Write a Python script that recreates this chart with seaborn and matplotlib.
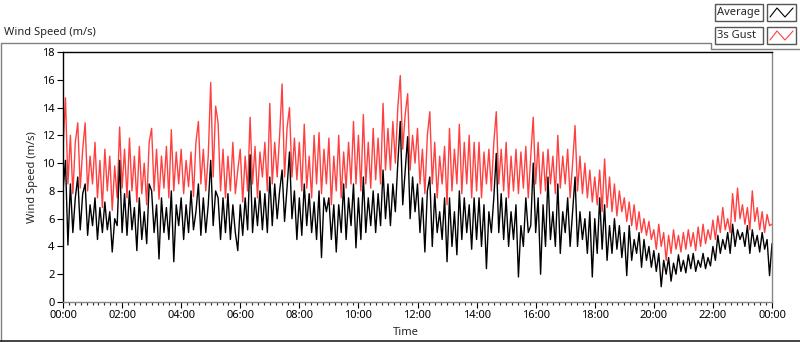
import numpy as np
import pandas as pd
import matplotlib
matplotlib.use('Agg')
import matplotlib.pyplot as plt
import matplotlib.dates as mdates
import matplotlib.patches as mpatches
from matplotlib.lines import Line2D
import seaborn as sns

# Values, one every 5 minutes from 00:00 to 24:00 (12 per row = 1 hour)
gust = [
    11.0, 14.7, 8.5, 12.0, 7.8, 11.5, 12.9, 8.2, 11.0, 12.9, 8.0, 10.5,
    8.5, 11.5, 7.5, 10.2, 6.8, 11.0, 8.0, 10.5, 6.6, 9.8, 7.5, 12.6,
    8.2, 11.0, 7.5, 11.8, 8.0, 10.5, 7.2, 11.2, 7.8, 10.0, 7.0, 11.5,
    12.5, 8.0, 11.0, 7.4, 10.5, 8.2, 11.2, 7.5, 12.4, 8.0, 10.8, 8.5,
    11.0, 7.8, 10.2, 8.3, 10.8, 7.6, 11.5, 13.0, 8.5, 11.0, 8.0, 10.5,
    15.8, 9.0, 14.1, 12.9, 8.0, 11.0, 7.5, 10.5, 8.0, 11.5, 7.8, 9.5,
    11.0, 7.2, 10.5, 8.0, 13.3, 8.5, 11.2, 7.5, 10.8, 9.0, 11.5, 8.0,
    14.3, 8.5, 11.5, 9.0, 12.0, 15.7, 9.0, 12.5, 14.0, 9.0, 11.8, 8.8,
    11.5, 8.0, 12.8, 8.2, 10.5, 7.5, 12.0, 8.5, 12.2, 7.8, 11.0, 8.5,
    11.8, 7.0, 10.5, 8.0, 12.0, 7.5, 10.8, 8.2, 11.5, 8.5, 13.0, 8.5,
    12.0, 8.0, 13.5, 8.5, 11.5, 8.2, 12.5, 8.8, 11.8, 8.5, 14.3, 9.5,
    12.5, 9.5, 13.0, 10.0, 14.0, 16.3, 11.0, 13.5, 15.0, 9.5, 12.0, 10.0,
    12.5, 8.5, 11.0, 7.8, 12.0, 13.7, 8.5, 11.5, 7.5, 10.5, 8.5, 11.2,
    7.0, 12.5, 8.0, 11.0, 8.5, 12.8, 7.8, 11.5, 8.5, 12.0, 7.5, 11.5,
    8.0, 11.5, 7.5, 10.8, 8.5, 11.0, 8.0, 11.5, 13.7, 8.5, 11.0, 8.0,
    11.5, 7.5, 10.5, 8.0, 11.0, 7.8, 10.8, 8.2, 11.2, 7.5, 10.5, 13.3,
    8.5, 11.5, 7.8, 10.8, 8.0, 11.0, 8.5, 10.5, 7.8, 12.0, 8.2, 10.5,
    8.5, 11.0, 7.5, 10.0, 12.7, 8.0, 10.5, 7.8, 10.0, 7.5, 9.5, 7.2,
    9.0, 7.0, 9.5, 6.5, 10.3, 6.8, 9.0, 6.5, 8.5, 6.2, 8.0, 6.5,
    7.5, 5.8, 7.2, 5.5, 7.0, 5.2, 6.5, 5.0, 6.0, 4.8, 5.8, 4.5,
    5.2, 3.8, 5.6, 4.0, 5.0, 3.0, 4.8, 3.5, 5.2, 3.8, 4.8, 3.6,
    5.0, 3.8, 5.2, 4.0, 5.0, 3.7, 5.4, 4.0, 5.6, 4.2, 5.2, 4.5,
    5.9, 4.5, 6.2, 5.0, 6.8, 5.2, 6.0, 5.0, 7.8, 5.8, 8.2, 6.0,
    7.0, 5.6, 6.8, 5.2, 8.0, 5.8, 6.8, 5.2, 6.5, 5.0, 6.3, 5.5,
    5.6,
]
average = [
    8.0, 10.2, 4.1, 8.5, 5.0, 7.5, 9.0, 5.2, 7.8, 8.5, 4.8, 7.0,
    5.5, 7.5, 4.5, 6.8, 5.0, 7.2, 5.2, 6.5, 3.6, 6.0, 5.5, 10.2,
    5.0, 7.8, 4.8, 8.0, 5.2, 6.8, 3.7, 7.5, 4.5, 6.5, 4.2, 8.5,
    8.0, 5.0, 7.0, 3.1, 7.5, 5.0, 6.8, 4.5, 8.0, 2.9, 7.0, 5.5,
    7.5, 4.5, 7.0, 5.0, 8.0, 5.2, 6.5, 8.5, 4.8, 7.5, 5.0, 7.0,
    10.2, 5.5, 8.0, 7.5, 4.5, 7.5, 5.0, 7.8, 4.5, 7.0, 5.0, 3.7,
    7.0, 4.8, 7.5, 5.2, 10.6, 5.0, 7.5, 5.5, 8.0, 5.2, 7.8, 5.0,
    9.0, 5.5, 8.5, 6.0, 8.0, 9.5, 5.8, 8.2, 10.8, 6.0, 8.0, 4.5,
    7.5, 4.8, 8.5, 5.5, 7.8, 5.0, 7.2, 4.5, 8.0, 3.2, 7.5, 6.5,
    7.5, 4.5, 7.0, 3.6, 7.0, 5.0, 8.5, 4.5, 7.5, 5.5, 8.5, 3.9,
    7.5, 4.5, 9.0, 5.0, 7.5, 5.5, 8.0, 5.0, 7.8, 5.5, 9.5, 6.0,
    8.5, 5.5, 8.5, 6.5, 10.0, 13.0, 7.0, 9.5, 11.9, 6.0, 9.0, 6.5,
    8.5, 5.0, 7.5, 3.6, 8.0, 9.0, 4.0, 7.8, 5.0, 6.5, 4.5, 7.5,
    2.9, 7.5, 4.0, 6.5, 3.4, 8.0, 4.5, 7.5, 5.0, 7.0, 3.8, 7.5,
    4.5, 7.5, 4.0, 7.0, 2.4, 6.5, 5.0, 7.5, 10.7, 5.0, 7.8, 4.5,
    7.5, 4.0, 6.5, 4.5, 7.0, 1.8, 5.5, 4.0, 7.5, 5.0, 5.5, 10.0,
    5.0, 7.5, 2.0, 7.0, 4.0, 9.0, 4.5, 6.5, 4.0, 8.5, 3.5, 6.5,
    5.0, 7.5, 4.0, 6.5, 9.0, 4.0, 6.5, 4.5, 6.0, 3.5, 6.5, 1.8,
    6.0, 3.5, 7.5, 3.8, 7.0, 3.0, 5.5, 3.5, 6.0, 3.8, 5.5, 3.2,
    5.0, 1.9, 5.5, 3.0, 4.5, 3.5, 5.0, 2.5, 4.5, 3.0, 4.0, 2.5,
    3.7, 2.2, 3.5, 1.1, 3.0, 2.0, 3.2, 1.5, 2.8, 2.0, 3.4, 2.2,
    3.0, 2.1, 3.4, 2.4, 3.5, 2.2, 3.0, 2.5, 3.5, 2.4, 3.2, 2.6,
    4.0, 3.0, 4.8, 3.5, 4.5, 3.8, 5.0, 3.5, 5.6, 4.0, 5.2, 4.5,
    5.0, 4.0, 5.5, 3.5, 5.2, 4.0, 4.8, 3.6, 5.0, 3.8, 4.5, 1.9,
    4.2,
]
series_names = ['Average', '3s Gust']
series_colors = ['#000000', '#ff4040']

start = pd.Timestamp('2000-01-01 00:00')
times = pd.date_range(start, periods=len(gust), freq='5min')
df = pd.DataFrame({'time': times, 'Average': average, '3s Gust': gust})

sns.set_style('white')
plt.rcParams['font.family'] = ['Noto Sans', 'DejaVu Sans']
fs = 8

fig = plt.figure(figsize=(8, 3.42), dpi=100, facecolor='w')
ax = fig.add_axes([63 / 800, 1 - 302 / 342, 709 / 800, 250 / 342])

# gust first so the average draws on top
sns.lineplot(ax=ax, data=df, x='time', y='3s Gust', color=series_colors[1], lw=1.0)
sns.lineplot(ax=ax, data=df, x='time', y='Average', color=series_colors[0], lw=1.0)

ax.set_xlim(times[0], times[-1])
ax.set_ylim(0, 18)
ax.set_yticks(np.arange(0, 19, 2))
ax.xaxis.set_major_locator(mdates.HourLocator(byhour=range(0, 24, 2)))
ax.xaxis.set_minor_locator(mdates.MinuteLocator(byminute=[0, 12, 24, 36, 48]))
ax.xaxis.set_major_formatter(mdates.DateFormatter('%H:%M'))
ax.tick_params(axis='both', which='major', direction='out', length=4, width=0.8,
               labelsize=fs, colors='black', pad=2, bottom=True, left=True)
ax.tick_params(axis='x', which='minor', direction='out', length=2.5, width=0.8, bottom=True)
ax.set_xlabel('Time', fontsize=fs)
ax.xaxis.set_label_coords(0.483, -0.10)
ax.set_ylabel('Wind Speed (m/s)', fontsize=fs, labelpad=3)
for side in ['left', 'top']:
    ax.spines[side].set_color('black')
    ax.spines[side].set_linewidth(1)
for side in ['bottom', 'right']:
    ax.spines[side].set_color('#888888')
    ax.spines[side].set_linewidth(1)

# outer panel frame, cut where the legend sits
def fx(px):
    return px / 800

def fy(py):
    return 1 - py / 342

frame = [(0.5, 341), (0.5, 43), (711, 43), (711, 49), (800, 49)]
fig.add_artist(Line2D([fx(p[0]) for p in frame], [fy(p[1]) for p in frame],
                      color='#808080', lw=1))
fig.add_artist(Line2D([fx(0), fx(800)], [fy(341), fy(341)], color='#222222', lw=1.2))
fig.text(fx(4), fy(32), 'Wind Speed (m/s)', fontsize=fs, va='center', ha='left')

# legend boxes
for i, (name, color) in enumerate(zip(series_names, series_colors)):
    top = 4 + i * 23
    fig.add_artist(mpatches.Rectangle((fx(715), fy(top + 17)), fx(48), 17 / 342,
                                      facecolor='white', edgecolor='#555555', lw=1))
    fig.add_artist(mpatches.Rectangle((fx(767), fy(top + 17)), fx(29), 17 / 342,
                                      facecolor='white', edgecolor='#555555', lw=1))
    fig.text(fx(717), fy(top + 8.5), name, fontsize=fs, va='center', ha='left')
    zx = [770, 777, 785, 793]
    zy = [top + 13, top + 4, top + 13, top + 4]
    fig.add_artist(Line2D([fx(v) for v in zx], [fy(v) for v in zy], color=color, lw=0.8))

plt.savefig('out.png', dpi=100)
